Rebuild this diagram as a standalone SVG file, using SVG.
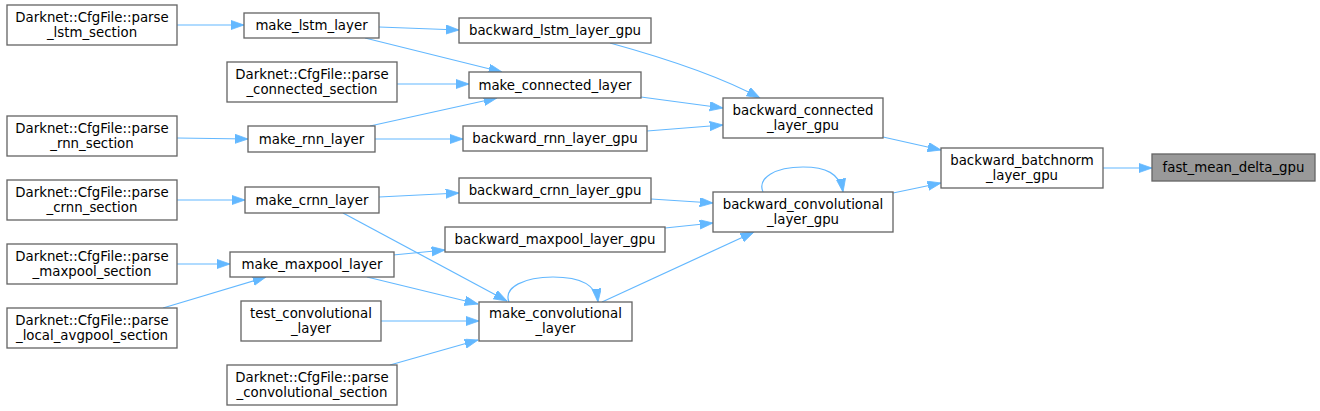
<svg xmlns="http://www.w3.org/2000/svg" width="1320" height="411" viewBox="0 0 1320 411">
<defs>
<style>
.n rect{fill:#ffffff;stroke:#666666;stroke-width:1.33}
.n text{font-family:"DejaVu Sans",sans-serif;font-size:13.33px;fill:#000000;text-anchor:middle}
#n22 rect{fill:#999999}
.e path{fill:none;stroke:#63b8ff;stroke-width:1.2;marker-end:url(#ah)}
</style>
<marker id="ah" markerUnits="userSpaceOnUse" markerWidth="14" markerHeight="10" refX="13.3" refY="4.67" orient="auto">
<path d="M0,0 L13.3,4.67 L0,9.33 Z" fill="#63b8ff" stroke="#63b8ff" stroke-width="0.8"/>
</marker>
</defs>
<rect width="1320" height="411" fill="#ffffff"/>
<g class="e" id="edges">
<path d="M177,25 L244,25"/>
<path d="M379,27 L459,30"/>
<path d="M365,38 L502,72"/>
<path d="M397,84 L469,84"/>
<path d="M370,126 L497,98"/>
<path d="M177,138 L248,139"/>
<path d="M375,139 L463,139"/>
<path d="M610,43 C650,54 712,72 760,98"/>
<path d="M641,97 L723,108"/>
<path d="M647,131 L723,125"/>
<path d="M883,137 L941,150"/>
<path d="M893,193 L941,183"/>
<path d="M1103,168 L1152,168"/>
<path d="M763,192 C757,178 775,167 803,167 C825,167 840,173 843,192"/>
<path d="M651,199 L713,203"/>
<path d="M665,228 L713,223"/>
<path d="M602,302 L754,232"/>
<path d="M177,200 L245,200"/>
<path d="M379,197 L459,193"/>
<path d="M343,213 L507,301"/>
<path d="M177,264 L230,264"/>
<path d="M393,255 L445,250"/>
<path d="M163,308 L266,277"/>
<path d="M367,277 L478,304"/>
<path d="M509,302 C503,287 525,277 553,277 C578,277 596,283 598,302"/>
<path d="M381,321 L479,321"/>
<path d="M390,365 L478,340"/>
</g>
<g class="n" id="n1"><rect x="7" y="5" width="170" height="40"/><text x="92" y="21.5">Darknet::CfgFile::parse</text><text x="92" y="36.5">_lstm_section</text></g>
<g class="n" id="n2"><rect x="244" y="13" width="135" height="25"/><text x="311.5" y="30">make_lstm_layer</text></g>
<g class="n" id="n3"><rect x="227" y="62" width="170" height="40"/><text x="312" y="78.5">Darknet::CfgFile::parse</text><text x="312" y="93.5">_connected_section</text></g>
<g class="n" id="n4"><rect x="7" y="116" width="170" height="40"/><text x="92" y="132.5">Darknet::CfgFile::parse</text><text x="92" y="147.5">_rnn_section</text></g>
<g class="n" id="n5"><rect x="248" y="126" width="127" height="26"/><text x="311.5" y="143.5">make_rnn_layer</text></g>
<g class="n" id="n6"><rect x="7" y="180" width="170" height="40"/><text x="92" y="196.5">Darknet::CfgFile::parse</text><text x="92" y="211.5">_crnn_section</text></g>
<g class="n" id="n7"><rect x="245" y="187" width="134" height="26"/><text x="312" y="204.5">make_crnn_layer</text></g>
<g class="n" id="n8"><rect x="7" y="244" width="170" height="40"/><text x="92" y="260.5">Darknet::CfgFile::parse</text><text x="92" y="275.5">_maxpool_section</text></g>
<g class="n" id="n9"><rect x="230" y="252" width="164" height="25"/><text x="312" y="269">make_maxpool_layer</text></g>
<g class="n" id="n10"><rect x="7" y="308" width="170" height="40"/><text x="92" y="324.5">Darknet::CfgFile::parse</text><text x="92" y="339.5">_local_avgpool_section</text></g>
<g class="n" id="n11"><rect x="241" y="301" width="140" height="40"/><text x="311" y="317.5">test_convolutional</text><text x="311" y="332.5">_layer</text></g>
<g class="n" id="n12"><rect x="227" y="365" width="170" height="40"/><text x="312" y="381.5">Darknet::CfgFile::parse</text><text x="312" y="396.5">_convolutional_section</text></g>
<g class="n" id="n13"><rect x="459" y="18" width="192" height="25"/><text x="555" y="35">backward_lstm_layer_gpu</text></g>
<g class="n" id="n14"><rect x="469" y="72" width="172" height="26"/><text x="555" y="89.5">make_connected_layer</text></g>
<g class="n" id="n15"><rect x="463" y="126" width="184" height="25"/><text x="555" y="143">backward_rnn_layer_gpu</text></g>
<g class="n" id="n16"><rect x="459" y="178" width="192" height="25"/><text x="555" y="195">backward_crnn_layer_gpu</text></g>
<g class="n" id="n17"><rect x="445" y="227" width="220" height="25"/><text x="555" y="244">backward_maxpool_layer_gpu</text></g>
<g class="n" id="n18"><rect x="479" y="302" width="153" height="39"/><text x="555.5" y="318">make_convolutional</text><text x="555.5" y="333">_layer</text></g>
<g class="n" id="n19"><rect x="723" y="98" width="160" height="40"/><text x="803" y="114.5">backward_connected</text><text x="803" y="129.5">_layer_gpu</text></g>
<g class="n" id="n20"><rect x="713" y="192" width="180" height="40"/><text x="803" y="208.5">backward_convolutional</text><text x="803" y="223.5">_layer_gpu</text></g>
<g class="n" id="n21"><rect x="941" y="148" width="162" height="40"/><text x="1022" y="164.5">backward_batchnorm</text><text x="1022" y="179.5">_layer_gpu</text></g>
<g class="n" id="n22"><rect x="1152" y="154" width="163" height="27"/><text x="1233.5" y="172">fast_mean_delta_gpu</text></g>
</svg>
